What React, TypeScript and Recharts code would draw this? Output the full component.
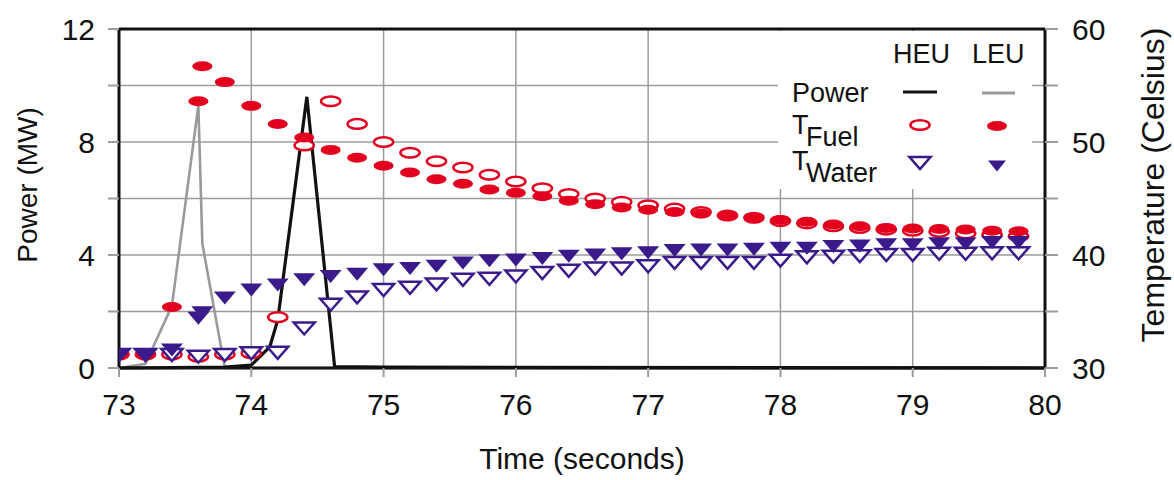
import { CartesianGrid, ComposedChart, Line, ReferenceLine, Scatter, XAxis, YAxis } from 'recharts';

const RED = '#e3001f';
const PURPLE = '#3b1a8c';
const GRID = '#9c9c9c';
const FONT = '"Liberation Sans", Arial, sans-serif';

// time samples (s)
const tGrid = [
  73.0, 73.2, 73.4, 73.6, 73.8, 74.0, 74.2, 74.4, 74.6, 74.8, 75.0, 75.2, 75.4, 75.6, 75.8, 76.0, 76.2, 76.4,
  76.6, 76.8, 77.0, 77.2, 77.4, 77.6, 77.8, 78.0, 78.2, 78.4, 78.6, 78.8, 79.0, 79.2, 79.4, 79.6, 79.8,
];
const tLeu = [
  73.0, 73.2, 73.4, 73.6, 73.63, 73.8, 74.0, 74.2, 74.4, 74.6, 74.8, 75.0, 75.2, 75.4, 75.6, 75.8, 76.0, 76.2,
  76.4, 76.6, 76.8, 77.0, 77.2, 77.4, 77.6, 77.8, 78.0, 78.2, 78.4, 78.6, 78.8, 79.0, 79.2, 79.4, 79.6, 79.8,
];

// temperatures (Celsius)
const heuFuel = [
  31.2, 31.2, 31.2, 31.0, 31.2, 31.3, 34.5, 49.7, 53.6, 51.6, 50.0, 49.05, 48.3, 47.75, 47.1, 46.5, 45.9, 45.4,
  45.0, 44.7, 44.4, 44.1, 43.8, 43.5, 43.3, 43.0, 42.8, 42.55, 42.4, 42.25, 42.15, 42.05, 41.9, 41.8, 41.65,
];
const leuFuel = [
  31.2, 31.2, 35.4, 53.6, 56.7, 55.3, 53.2, 51.6, 50.4, 49.3, 48.6, 47.9, 47.3, 46.7, 46.3, 45.8, 45.5, 45.2,
  44.8, 44.5, 44.2, 44.0, 43.8, 43.65, 43.45, 43.25, 43.1, 42.95, 42.7, 42.55, 42.4, 42.35, 42.3, 42.25, 42.15, 42.1,
];
const heuWater = [
  31.15, 31.15, 31.15, 31.0, 31.15, 31.3, 31.35, 33.5, 35.6, 36.25, 36.9, 37.1, 37.4, 37.8, 37.9, 38.1, 38.4, 38.6,
  38.8, 38.8, 39.0, 39.3, 39.3, 39.3, 39.3, 39.5, 39.8, 39.85, 39.9, 40.0, 40.0, 40.1, 40.1, 40.15, 40.15,
];
const leuWater = [
  31.15, 31.15, 31.6, 34.4, 34.9, 36.2, 36.9, 37.35, 37.8, 38.1, 38.3, 38.7, 38.8, 39.0, 39.3, 39.5, 39.55, 39.7,
  39.9, 40.0, 40.1, 40.2, 40.4, 40.45, 40.45, 40.5, 40.6, 40.6, 40.75, 40.8, 40.9, 40.9, 41.0, 41.0, 41.1, 41.1,
];

// power (MW)
const tHeuPower = [73.0, 73.8, 74.0, 74.14, 74.2, 74.42, 74.63, 75.0, 80.0];
const heuPower = [0, 0.03, 0.1, 0.75, 1.7, 9.6, 0.05, 0.03, 0];
const tLeuPower = [73.0, 73.2, 73.4, 73.6, 73.63, 73.8, 74.0, 80.0];
const leuPower = [0, 0.15, 2.2, 9.3, 4.4, 0, 0, 0];

const xTicks = [73, 74, 75, 76, 77, 78, 79, 80];
const powerTicks = [0, 2, 4, 6, 8, 10, 12];
const tempTicks = [30, 35, 40, 45, 50, 55, 60];

const zip = (ts: number[], vs: number[]) => ts.map((t, i) => ({ t, v: vs[i] }));

const OpenOval = ({ cx, cy }: any) => (
  <ellipse cx={cx} cy={cy} rx={9.6} ry={4.8} fill="#fff" stroke={RED} strokeWidth={2.5} />
);
const FilledOval = ({ cx, cy }: any) => <ellipse cx={cx} cy={cy} rx={10} ry={5} fill={RED} />;
const tri = (cx: number, cy: number, w: number, h: number) =>
  `M${cx - w / 2},${cy - h / 2} L${cx + w / 2},${cy - h / 2} L${cx},${cy + h / 2} Z`;
const OpenTri = ({ cx, cy }: any) => (
  <path d={tri(cx, cy, 21, 12)} fill="#fff" stroke={PURPLE} strokeWidth={2.5} strokeLinejoin="miter" />
);
const FilledTri = ({ cx, cy }: any) => <path d={tri(cx, cy, 22, 13)} fill={PURPLE} />;

const tickFmt = (step: number, base: number) => (v: number) => ((v - base) % step === 0 ? String(v) : '');

// legend + axis titles drawn on top of the chart
function Overlay() {
  return (
    <svg width={1174} height={480} style={{ position: 'absolute', left: 0, top: 0, pointerEvents: 'none' }}>
      <rect x={778} y={31} width={254} height={158} fill="#fff" />
      <g fontFamily={FONT} fontSize={27} fill="#111">
        <text x={893} y={63}>HEU</text>
        <text x={972} y={63}>LEU</text>
        <text x={792} y={102}>Power</text>
        <text x={792} y={134}>T</text>
        <text x={806} y={146}>Fuel</text>
        <text x={792} y={170}>T</text>
        <text x={806} y={182}>Water</text>
      </g>
      <line x1={903} x2={937} y1={92} y2={92} stroke="#111" strokeWidth={3} />
      <line x1={982} x2={1015} y1={93} y2={93} stroke="#9a9a9a" strokeWidth={3} />
      <OpenOval cx={920} cy={125} />
      <FilledOval cx={997} cy={126} />
      <OpenTri cx={920} cy={163} />
      <path d={tri(997, 166, 18, 11)} fill={PURPLE} />

      <g fontFamily={FONT} fill="#111" textAnchor="middle">
        <text x={0} y={0} fontSize={28} dominantBaseline="central" transform="translate(27,185) rotate(-90)">
          Power (MW)
        </text>
        <text x={0} y={0} fontSize={32} dominantBaseline="central" transform="translate(1153,185) rotate(-90)">
          Temperature (Celsius)
        </text>
        <text x={582} y={469} fontSize={30}>
          Time (seconds)
        </text>
      </g>
    </svg>
  );
}

export default function App() {
  return (
    <div style={{ position: 'absolute', left: 0, top: 0, width: 1174, height: 480, background: '#fff' }}>
      <ComposedChart width={1174} height={480} margin={{ top: 29, right: 0, bottom: 0, left: 0 }}>
        <CartesianGrid yAxisId="left" stroke={GRID} strokeWidth={1.5} />
        <XAxis
          dataKey="t"
          type="number"
          domain={[73, 80]}
          ticks={xTicks}
          height={112}
          tickSize={9}
          tickMargin={17}
          axisLine={{ stroke: '#111', strokeWidth: 3 }}
          tickLine={{ stroke: GRID, strokeWidth: 2 }}
          tick={{ fontSize: 30, fill: '#111', fontFamily: FONT }}
          allowDataOverflow
        />
        <YAxis
          yAxisId="left"
          type="number"
          domain={[0, 12]}
          ticks={powerTicks}
          width={119}
          tickSize={11}
          tickMargin={13}
          tickFormatter={tickFmt(4, 0)}
          axisLine={{ stroke: '#111', strokeWidth: 3 }}
          tickLine={{ stroke: GRID, strokeWidth: 2 }}
          tick={{ fontSize: 30, fill: '#111', fontFamily: FONT }}
        />
        <YAxis
          yAxisId="right"
          orientation="right"
          type="number"
          domain={[30, 60]}
          ticks={tempTicks}
          width={129}
          tickSize={13}
          tickMargin={14}
          tickFormatter={tickFmt(10, 30)}
          axisLine={{ stroke: '#111', strokeWidth: 3 }}
          tickLine={{ stroke: GRID, strokeWidth: 2 }}
          tick={{ fontSize: 30, fill: '#111', fontFamily: FONT }}
        />
        <ReferenceLine yAxisId="left" y={12} stroke="#111" strokeWidth={3} />

        <Scatter yAxisId="right" data={zip(tGrid, heuFuel)} dataKey="v" shape={OpenOval} isAnimationActive={false} />
        <Scatter yAxisId="right" data={zip(tLeu, leuFuel)} dataKey="v" shape={FilledOval} isAnimationActive={false} />
        <Scatter yAxisId="right" data={zip(tGrid, heuWater)} dataKey="v" shape={OpenTri} isAnimationActive={false} />
        <Scatter yAxisId="right" data={zip(tLeu, leuWater)} dataKey="v" shape={FilledTri} isAnimationActive={false} />

        <Line
          yAxisId="left"
          data={zip(tLeuPower, leuPower)}
          dataKey="v"
          type="linear"
          stroke="#9a9a9a"
          strokeWidth={2.6}
          dot={false}
          isAnimationActive={false}
        />
        <Line
          yAxisId="left"
          data={zip(tHeuPower, heuPower)}
          dataKey="v"
          type="linear"
          stroke="#111"
          strokeWidth={3.2}
          dot={false}
          isAnimationActive={false}
        />
      </ComposedChart>
      <Overlay />
    </div>
  );
}
